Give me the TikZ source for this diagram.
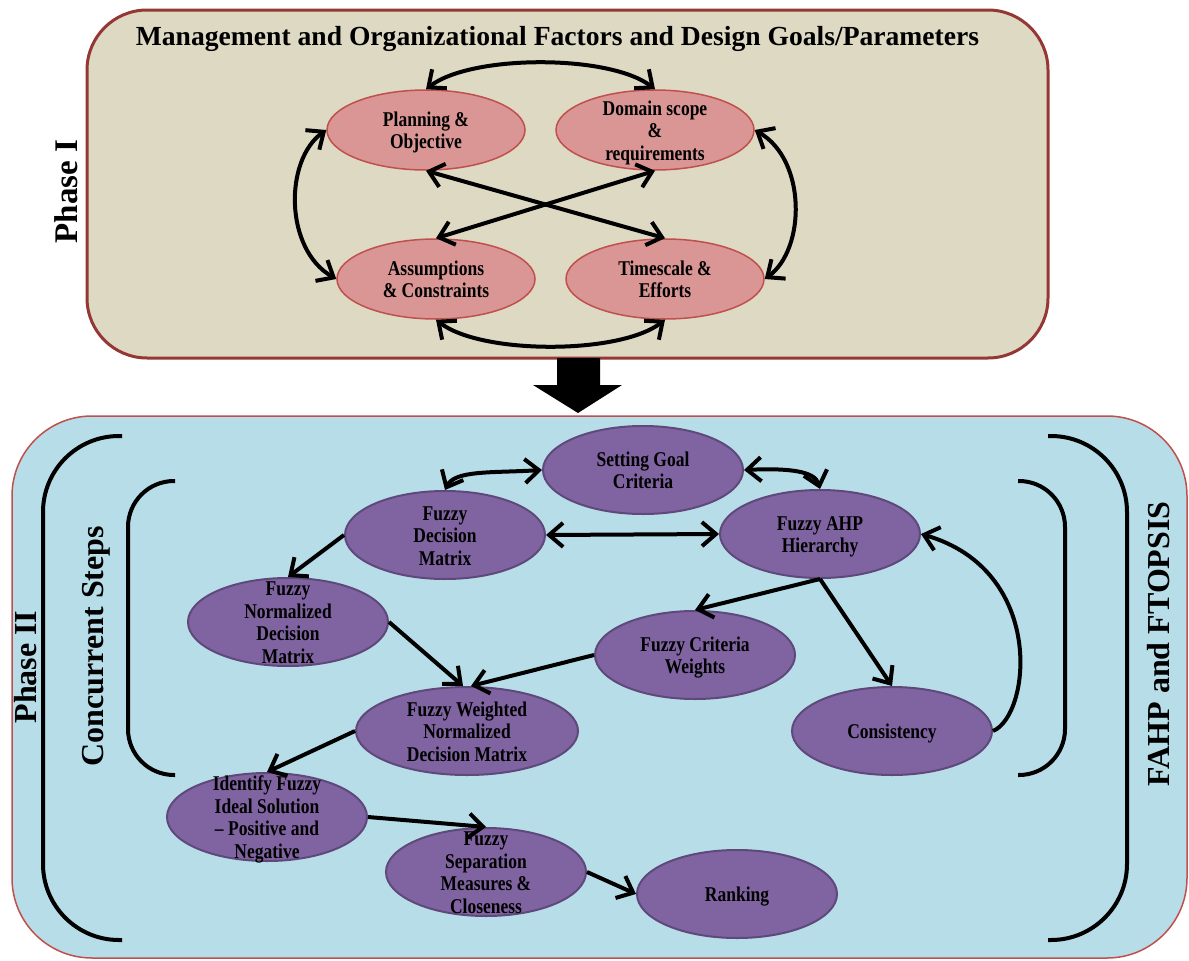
\documentclass[tikz,border=0pt]{standalone}
\usepackage{fontspec}
\setmainfont{Liberation Serif}
\usetikzlibrary{shapes.geometric,arrows.meta}
\definecolor{beige}{HTML}{DDD9C3}
\definecolor{boxred}{HTML}{953735}
\definecolor{skyb}{HTML}{B7DDE8}
\definecolor{lred}{HTML}{C0504D}
\definecolor{pinkf}{HTML}{D99694}
\definecolor{purf}{HTML}{8064A2}
\definecolor{purd}{HTML}{5F497A}
\newcommand{\nt}[1]{\scalebox{1}[1.2]{\fontsize{17.5}{18.75}\selectfont\bfseries\begin{tabular}{@{}c@{}}#1\end{tabular}}}
\begin{document}
\begin{tikzpicture}[x=1pt,y=-1pt,
 pell/.style={ellipse, draw=lred, line width=1.5pt, fill=pinkf, minimum width=198pt, minimum height=80pt, inner sep=0pt},
 vell/.style={ellipse, draw=purd, line width=2pt, fill=purf, minimum width=200pt, minimum height=88pt, inner sep=0pt},
 txt/.style={inner sep=0pt, yshift=-3pt},
 conn/.style={line width=4pt, -{Straight Barb[length=14pt,width=24pt]}},
 bconn/.style={line width=4pt, {Straight Barb[length=14pt,width=24pt]}-{Straight Barb[length=14pt,width=24pt]}},
 brk/.style={line width=4pt},
 side/.style={font=\bfseries\fontsize{32}{36}\selectfont, rotate=90, inner sep=0pt}
]
\fill[white] (0,0) rectangle (1189,961);
\useasboundingbox (0,0) rectangle (1189,961);

% boxes
\node[draw=boxred, line width=3pt, fill=beige, rounded corners=60pt, minimum width=961pt, minimum height=348pt, inner sep=0pt] (p1box) at (567.5,184) {};
\node[draw=lred, line width=1.5pt, fill=skyb, rounded corners=80pt, minimum width=1175pt, minimum height=542pt, inner sep=0pt] (p2box) at (599.5,687) {};

% big arrow
\fill[black] (557,358) -- (600,358) -- (600,385) -- (622,385) -- (578,413) -- (533,385) -- (557,385) -- cycle;

% titles
\node[font=\bfseries\fontsize{27.6}{30}\selectfont, anchor=base, inner sep=0pt] (title) at (557.5,45) {Management and Organizational Factors and Design Goals/Parameters};
\node[side, font=\bfseries\fontsize{33}{36}\selectfont] (ph1) at (66.5,191.5) {Phase I};
\node[side] (ph2) at (26,667) {Phase II};
\node[side] (conc) at (96.5,646) {Concurrent Steps};
\node[side] (fahpt) at (1159,644) {FAHP and FTOPSIS};

% brackets
\draw[brk, rounded corners=76pt] (122,436) -- (43,436) -- (43,940) -- (122,940);
\draw[brk, rounded corners=46pt] (175,481) -- (128,481) -- (128,775) -- (175,775);
\draw[brk, rounded corners=46pt] (1018,481) -- (1065,481) -- (1065,775) -- (1018,775);
\draw[brk, rounded corners=76pt] (1048,436) -- (1127,436) -- (1127,940) -- (1048,940);

% phase I nodes
\node[pell, label={[txt]center:\nt{Planning \&\\Objective}}] (plan) at (426,130) {};
\node[pell, label={[txt]center:\nt{Domain scope\\\&\\requirements}}] (dom) at (655,130) {};
\node[pell, label={[txt]center:\nt{Assumptions\\\& Constraints}}] (assu) at (436,279) {};
\node[pell, label={[txt]center:\nt{Timescale \&\\Efforts}}] (time) at (665,279) {};

\draw[bconn] (plan.north) .. controls +(45,-35) and +(-45,-35) .. (dom.north);
\draw[bconn] (assu.south) .. controls +(45,35) and +(-45,35) .. (time.south);
\draw[bconn] (plan.west) .. controls +(-42,30) and +(-52,-30) .. (assu.west);
\draw[bconn] (dom.east) .. controls +(52,30) and +(41,-30) .. (time.east);
\draw[bconn] (plan.south) -- (time.north);
\draw[bconn] (dom.south) -- (assu.north);

% phase II nodes
\node[vell, label={[txt]center:\nt{Setting Goal\\Criteria}}] (sg) at (643,470) {};
\node[vell, label={[txt]center:\nt{Fuzzy\\Decision\\Matrix}}] (fdm) at (445,535) {};
\node[vell, label={[txt]center:\nt{Fuzzy AHP\\Hierarchy}}] (fahp) at (820,534) {};
\node[vell, label={[txt]center:\nt{Fuzzy\\Normalized\\Decision\\Matrix}}] (fnd) at (288,622) {};
\node[vell, label={[txt]center:\nt{Fuzzy Criteria\\Weights}}] (fcw) at (695,655) {};
\node[vell, minimum width=222pt, label={[txt]center:\nt{Fuzzy Weighted\\Normalized\\Decision Matrix}}] (fwnd) at (467,731) {};
\node[vell, label={[txt]center:\nt{Consistency}}] (cons) at (892,731) {};
\node[vell, label={[txt]center:\nt{Identify Fuzzy\\Ideal Solution\\– Positive and\\Negative}}] (ifis) at (267,817) {};
\node[vell, label={[txt]center:\nt{Fuzzy\\Separation\\Measures \&\\Closeness}}] (fsmc) at (486,872) {};
\node[vell, label={[txt]center:\nt{Ranking}}] (rank) at (737,894) {};

\draw[bconn] (fdm.north) .. controls +(10,-20) and +(-50,3) .. (sg.west);
\draw[bconn] (sg.east) .. controls +(45,-2) and +(-5,-18) .. (fahp.north);
\draw[bconn] (fdm.east) -- (fahp.west);
\draw[conn] (fdm.west) -- (fnd.north);
\draw[conn] (fnd.east) -- ([xshift=-4pt]fwnd.north);
\draw[conn] (fcw.west) -- ([xshift=4pt]fwnd.north);
\draw[conn] (fahp.south) -- (fcw.north);
\draw[conn] (fahp.south) -- (cons.north);
\draw[conn] (cons.east) .. controls +(38,-16) and +(125,36) .. (fahp.east);
\draw[conn] (fwnd.west) -- (ifis.north);
\draw[conn] (ifis.east) -- (fsmc.north);
\draw[conn] (fsmc.east) -- (rank.west);
\end{tikzpicture}
\end{document}
